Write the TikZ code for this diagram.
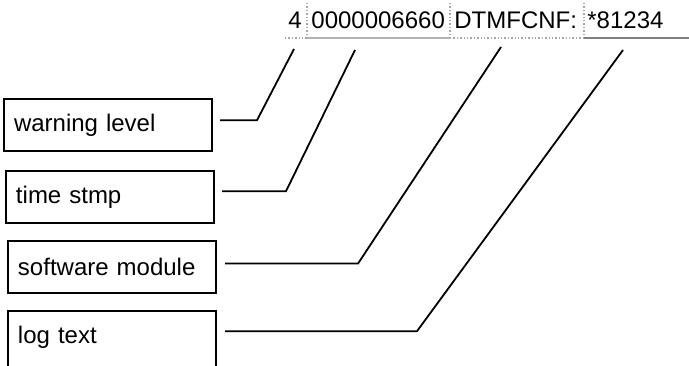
\documentclass[tikz,border=0pt]{standalone}
\usepackage{fontspec}
\setmainfont{Liberation Sans}
\usetikzlibrary{positioning}

\begin{document}
\begin{tikzpicture}[
    x=0.5pt, y=-0.5pt,
    font=\fontsize{12pt}{14pt}\selectfont,
    field/.style={inner sep=0pt, anchor=base west},
    sep/.style={gray!70, densely dotted, line width=0.7pt},
    box/.style={draw, line width=1pt, align=left, text width=94pt,
                inner xsep=5pt, minimum height=26pt, anchor=north west},
    lead/.style={line width=0.9pt},
  ]
    \clip (0,0) rectangle (689,365);
    % the log line
    \node[field] (lvl) at (288,28) {4};
    \node[field] (stmp) at (311,28) {0000006660};
    \node[field] (mod) at (454,28) {DTMFCNF:};
    \node[field] (txt) at (587,28) {*81234};
    \draw[sep] (307,3) -- (307,38);
    \draw[sep] (450,3) -- (450,38);
    \draw[sep] (584,3) -- (584,38);
    \draw[sep] (285,38) -- (307,38);
    \draw[gray!60, line width=0.6pt] (307,38) -- (450,38);
    \draw[sep] (450,38) -- (584,38);
    \draw[gray, line width=0.8pt] (584,38) -- (689,38);
    % legend boxes
    \node[box] (warn) at (3,98) {warning level};
    \node[box, below=9pt of warn.south west, anchor=north west, xshift=1pt] (stamp) {time stmp};
    \node[box, below=8pt of stamp.south west, anchor=north west, xshift=1pt] (module) {software module};
    \node[box, below=8pt of module.south west, anchor=north west,
          minimum height=32pt, text depth=8.5pt] (logtxt) {log text};
    % leader lines
    \coordinate (lvl end) at (294,49);
    \coordinate (stmp end) at (355,50);
    \coordinate (mod end) at (501,47);
    \coordinate (txt end) at (623,50);
    \draw[lead] ([xshift=3.5pt, yshift=5.5pt]warn.base east) -- ++(18.5pt,0) -- (lvl end);
    \draw[lead] ([xshift=3.5pt, yshift=6pt]stamp.base east) -- ++(32pt,0) -- (stmp end);
    \draw[lead] ([xshift=4pt, yshift=6pt]module.base east) -- ++(66.5pt,0) -- (mod end);
    \draw[lead] ([xshift=4pt, yshift=6pt]logtxt.base east) -- ++(96pt,0) -- (txt end);
\end{tikzpicture}
\end{document}
